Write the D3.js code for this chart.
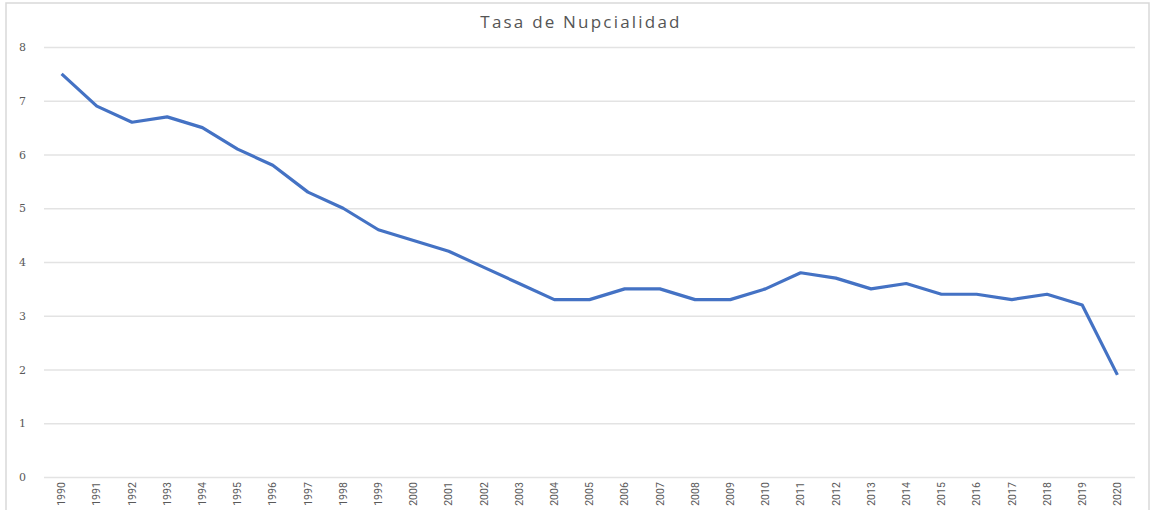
<!DOCTYPE html>
<html lang="es">
<head>
  <meta charset="UTF-8" />
  <title>Tasa de Nupcialidad</title>
  <script src="https://d3js.org/d3.v7.min.js"></script>
  <style>
    body { margin: 0; background: #fff; }
    svg { display: block; font-family: "Open Sans", sans-serif; }
    .grid line { stroke: #e3e3e3; stroke-width: 1.5px; }
    .grid .domain { display: none; }
    .y-axis text { fill: #595959; font-size: 11px; font-family: "DejaVu Serif", serif; }
    .x-axis text { fill: #595959; font-size: 10.5px; font-family: "Liberation Sans Narrow", "Roboto", sans-serif; }
    .line { fill: none; stroke: #4472c4; stroke-width: 3.2px; stroke-linejoin: round; }
  </style>
</head>
<body>
  <svg width="1154" height="510"></svg>

  <script>
    const years = d3.range(1990, 2021).map(String);
    const rates = [7.5, 6.9, 6.6, 6.7, 6.5, 6.1, 5.8, 5.3, 5.0, 4.6,
                   4.4, 4.2, 3.9, 3.6, 3.3, 3.3, 3.5, 3.5, 3.3, 3.3,
                   3.5, 3.8, 3.7, 3.5, 3.6, 3.4, 3.4, 3.3, 3.4, 3.2, 1.9];
    const yTicks = [0, 1, 2, 3, 4, 5, 6, 7, 8];

    const svg = d3.select("svg");

    // chart frame
    svg.append("rect")
      .attr("x", 6).attr("y", 3)
      .attr("width", 1143).attr("height", 520)
      .attr("fill", "none")
      .attr("stroke", "#d9d9d9")
      .attr("stroke-width", 1.5);

    svg.append("text")
      .attr("x", 581).attr("y", 28)
      .attr("text-anchor", "middle")
      .attr("fill", "#555")
      .style("font-size", "17px")
      .style("letter-spacing", "2.2px")
      .text("Tasa de Nupcialidad");

    const plot = { left: 44, right: 1135, top: 47, bottom: 477 };

    const x = d3.scaleBand().domain(years).range([plot.left, plot.right]);
    const y = d3.scaleLinear().domain([0, 8]).range([plot.bottom, plot.top]);

    svg.append("g")
      .attr("class", "grid")
      .attr("transform", `translate(${plot.left},0)`)
      .call(d3.axisLeft(y).tickValues(yTicks).tickSize(-(plot.right - plot.left)).tickFormat(""));

    svg.append("g")
      .attr("class", "y-axis")
      .attr("transform", `translate(${plot.left},0)`)
      .call(d3.axisLeft(y).tickValues(yTicks).tickSize(0).tickPadding(18))
      .call(g => g.select(".domain").remove());

    svg.append("g")
      .attr("class", "x-axis")
      .attr("transform", `translate(0,${plot.bottom})`)
      .call(d3.axisBottom(x).tickSize(0))
      .call(g => g.select(".domain").remove())
      .selectAll("text")
      .attr("transform", "rotate(-90)")
      .attr("text-anchor", "middle")
      .attr("x", -17)
      .attr("y", 0)
      .attr("dy", "0.35em");

    const line = d3.line()
      .x((d, i) => x(years[i]) + x.bandwidth() / 2)
      .y(d => y(d));

    svg.append("path")
      .datum(rates)
      .attr("class", "line")
      .attr("d", line);
  </script>
</body>
</html>
